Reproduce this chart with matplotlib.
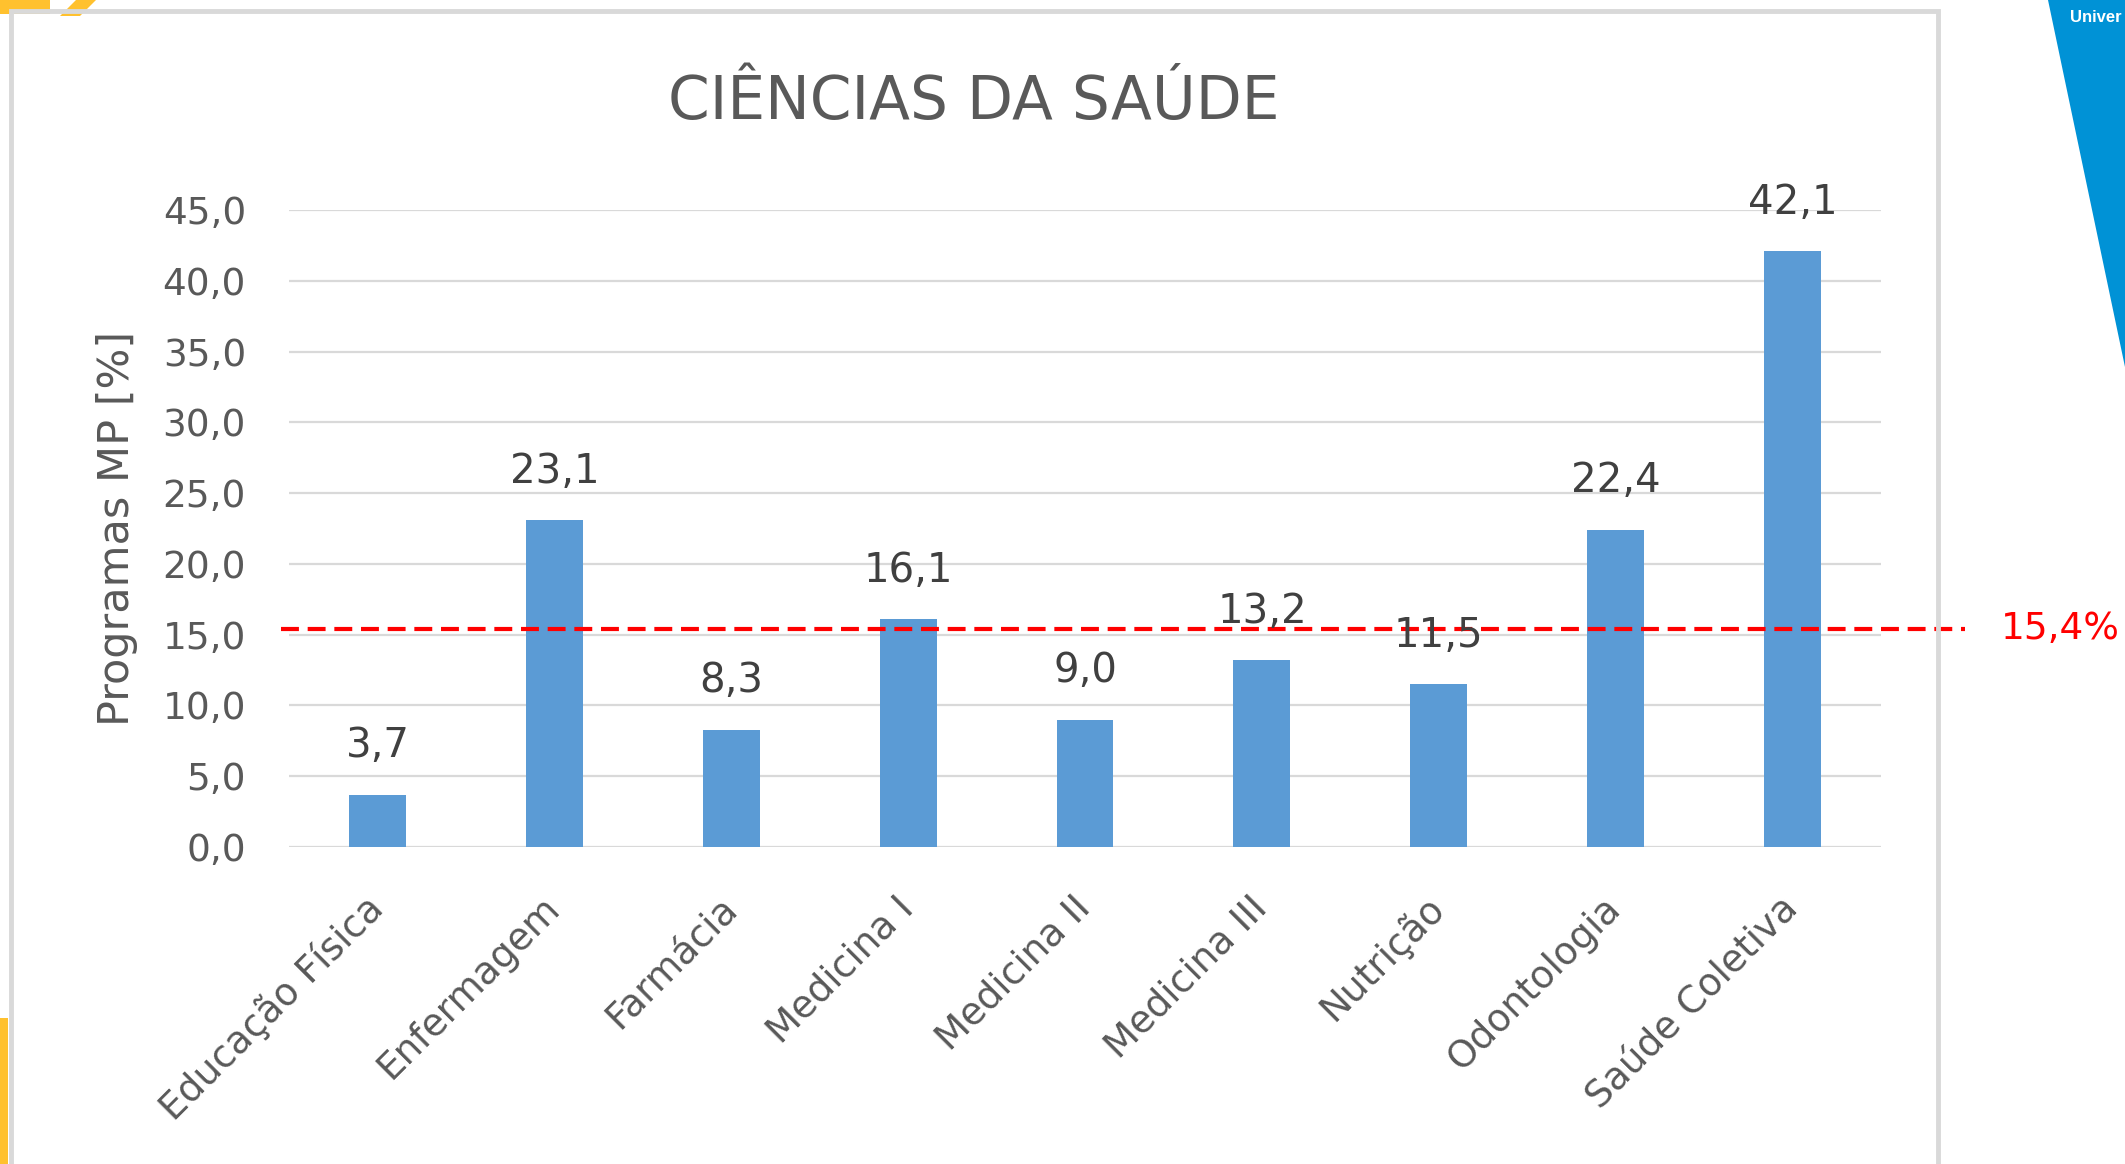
import matplotlib
matplotlib.use("Agg")
from matplotlib import pyplot as plt
from matplotlib.patches import Polygon, Rectangle

# data
cursos = ["Educação Física", "Enfermagem", "Farmácia", "Medicina I", "Medicina II",
          "Medicina III", "Nutrição", "Odontologia", "Saúde Coletiva"]
valores = [3.7, 23.1, 8.3, 16.1, 9.0, 13.2, 11.5, 22.4, 42.1]
media = 15.4
yticks = [0, 5, 10, 15, 20, 25, 30, 35, 40, 45]

W, H = 2125, 1164
plt.rcParams['font.family'] = ['DejaVu Sans']

fig = plt.figure(figsize=(W / 100, H / 100), dpi=100)
fig.patch.set_facecolor("white")

# slide decorations around the chart box
fig.patches.append(Polygon([[2048 / W, 1], [1, 1], [1, 1 - 367 / H]], closed=True,
                           transform=fig.transFigure, facecolor="#0092D6", edgecolor="none"))
fig.text(2122 / W, 1 - 17 / H, "Univer", color="white", fontsize=12, fontweight="bold",
         family="Liberation Sans", ha="right", va="center")
fig.patches.append(Rectangle((0, 1 - 14 / H), 50 / W, 14 / H, transform=fig.transFigure,
                             facecolor="#FFC12E", edgecolor="none"))
fig.patches.append(Polygon([[60 / W, 1 - 16 / H], [80 / W, 1 - 16 / H], [96 / W, 1], [76 / W, 1]],
                           closed=True, transform=fig.transFigure, facecolor="#FFC12E", edgecolor="none"))
fig.patches.append(Rectangle((0, 0), 8 / W, (H - 1018) / H, transform=fig.transFigure,
                             facecolor="#FFC12E", edgecolor="none"))
# chart frame
fig.patches.append(Rectangle((10.5 / W, -0.05), (1938 - 10.5) / W, 1.05 - 10.5 / H,
                             transform=fig.transFigure, facecolor="none",
                             edgecolor="#D9D9D9", linewidth=3.5))

ax = fig.add_axes([289 / W, 1 - 847 / H, (1881 - 289) / W, (847 - 210) / H])
x = list(range(len(cursos)))
ax.bar(x, valores, width=0.322, color="#5B9BD5", zorder=3)
ax.set_xlim(-0.5, len(cursos) - 0.5)
ax.set_ylim(0, 45)

ax.set_yticks(yticks)
ax.set_yticklabels([f"{v:.1f}".replace(".", ",") for v in yticks])
ax.set_xticks(x)
ax.set_xticklabels(cursos, rotation=45, ha="right", va="center", rotation_mode="anchor")
ax.tick_params(axis="both", length=0, colors="#595959")
ax.tick_params(axis="y", labelsize=27, pad=31)
ax.tick_params(axis="x", labelsize=27, pad=40)

ax.grid(axis="y", color="#D9D9D9", linewidth=1.6, zorder=0)
for s in ax.spines.values():
    s.set_visible(False)

ax.set_ylabel("Programas MP [%]", fontsize=31, color="#595959")
ax.yaxis.set_label_coords(-0.095, 0.5)

# average line
ax.axhline(media, xmin=-0.005, xmax=1.053, color="#FF0000", linewidth=3,
           dashes=(4.3, 2.1), clip_on=False, zorder=4)
ax.text(1.075, media, f"{media:.1f}%".replace(".", ","), transform=ax.get_yaxis_transform(),
        color="#FF0000", fontsize=27, ha="left", va="center")

for xi, v in zip(x, valores):
    ax.annotate(f"{v:.1f}".replace(".", ","), (xi, v), xytext=(0, 27), textcoords="offset points",
                ha="center", va="baseline", fontsize=29, color="#404040", zorder=5)

fig.text(974 / W, 1 - 102 / H, "CIÊNCIAS DA SAÚDE", fontsize=43, color="#595959",
         ha="center", va="center")

fig.savefig("out.png", dpi=100)
